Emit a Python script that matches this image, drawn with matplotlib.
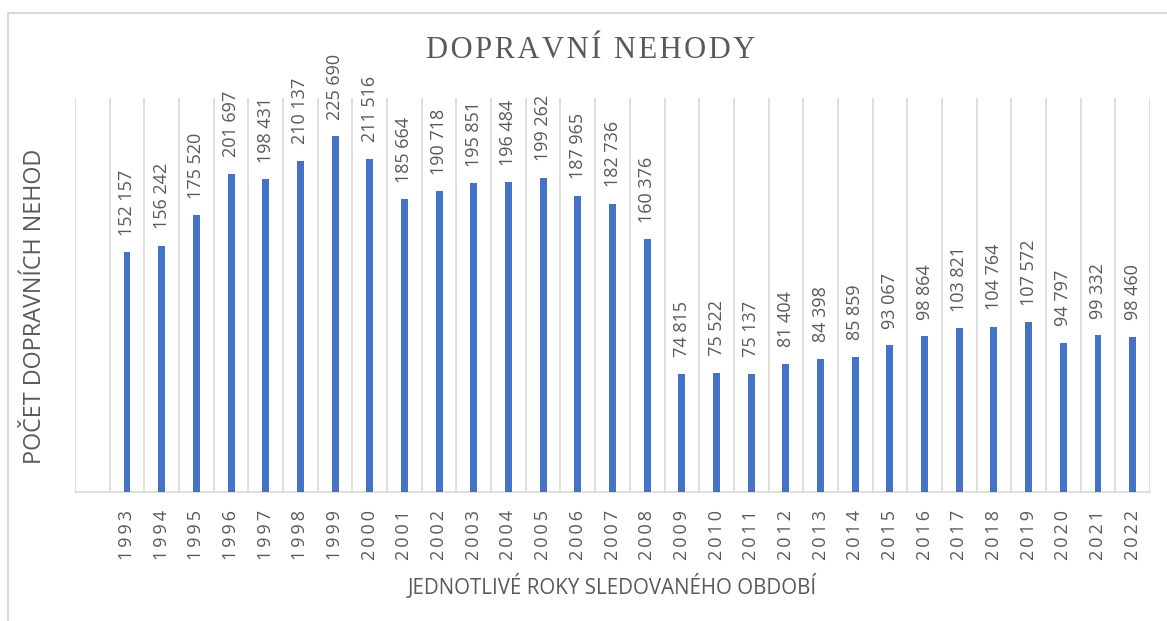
import matplotlib
matplotlib.use("Agg")
import matplotlib.pyplot as plt
from matplotlib.patches import Rectangle
import numpy as np

# data
years = [str(y) for y in range(1993, 2023)]
accidents = [152157, 156242, 175520, 201697, 198431, 210137, 225690, 211516,
             185664, 190718, 195851, 196484, 199262, 187965, 182736, 160376,
             74815, 75522, 75137, 81404, 84398, 85859, 93067, 98864,
             103821, 104764, 107572, 94797, 99332, 98460]

# the source table has one empty row before 1993
categories = [""] + years
values = [np.nan] + accidents

BAR = "#4472C4"
TXT = "#595959"
GRID = "#D9D9D9"
SANS = ["Open Sans", "DejaVu Sans"]

fig = plt.figure(figsize=(11.67, 6.21), dpi=100)
ax = fig.add_axes([75 / 1167, 1 - 492 / 621, 1075 / 1167, 394 / 621])

x = np.arange(len(categories))
ax.bar(x, values, width=0.2, color=BAR, zorder=3)

for xi, v in zip(x, values):
    if np.isnan(v):
        continue
    ax.annotate(f"{int(v):,}".replace(",", " "), (xi, v), xytext=(0, 12),
                textcoords="offset points", rotation=90, ha="center", va="bottom",
                color=TXT, fontsize=13, family=SANS)

ax.set_xlim(-0.5, len(categories) - 0.5)
ax.set_ylim(0, 250000)

# vertical gridlines between categories
ax.set_xticks(np.arange(-0.5, len(categories)), minor=True)
ax.grid(which="minor", axis="x", color=GRID, lw=1.2, zorder=0)
ax.set_xticks(x)
ax.set_xticklabels(["\u2009".join(c) for c in categories], rotation=90,
                   color=TXT, fontsize=13, family=SANS)
ax.tick_params(axis="x", which="both", length=0, pad=13)
ax.set_yticks([])

for s in ["top", "right", "left"]:
    ax.spines[s].set_visible(False)
ax.spines["bottom"].set_color(GRID)
ax.spines["bottom"].set_linewidth(1.2)

ax.set_xlabel("JEDNOTLIVÉ ROKY SLEDOVANÉHO OBDOBÍ", color=TXT, fontsize=14.8,
              family=SANS, labelpad=10)
fig.text(35 / 1167, 1 - 306 / 621, "POČET DOPRAVNÍCH NEHOD", rotation=90,
         ha="center", va="center", color=TXT, fontsize=16.8, family=SANS)

title = "DOPRAVNÍ NEHODY"
fig.text(591 / 1167, 1 - 50 / 621, "\u200a".join(title), ha="center", va="center",
         color=TXT, fontsize=22, family=["Liberation Serif", "DejaVu Serif"])

# chart frame
fig.patches.append(Rectangle((8 / 1167, -0.1), 1.2, 1 - 13 / 621 + 0.1,
                             transform=fig.transFigure, fill=False,
                             edgecolor=GRID, lw=1.5))

fig.savefig("out.png", dpi=100)
